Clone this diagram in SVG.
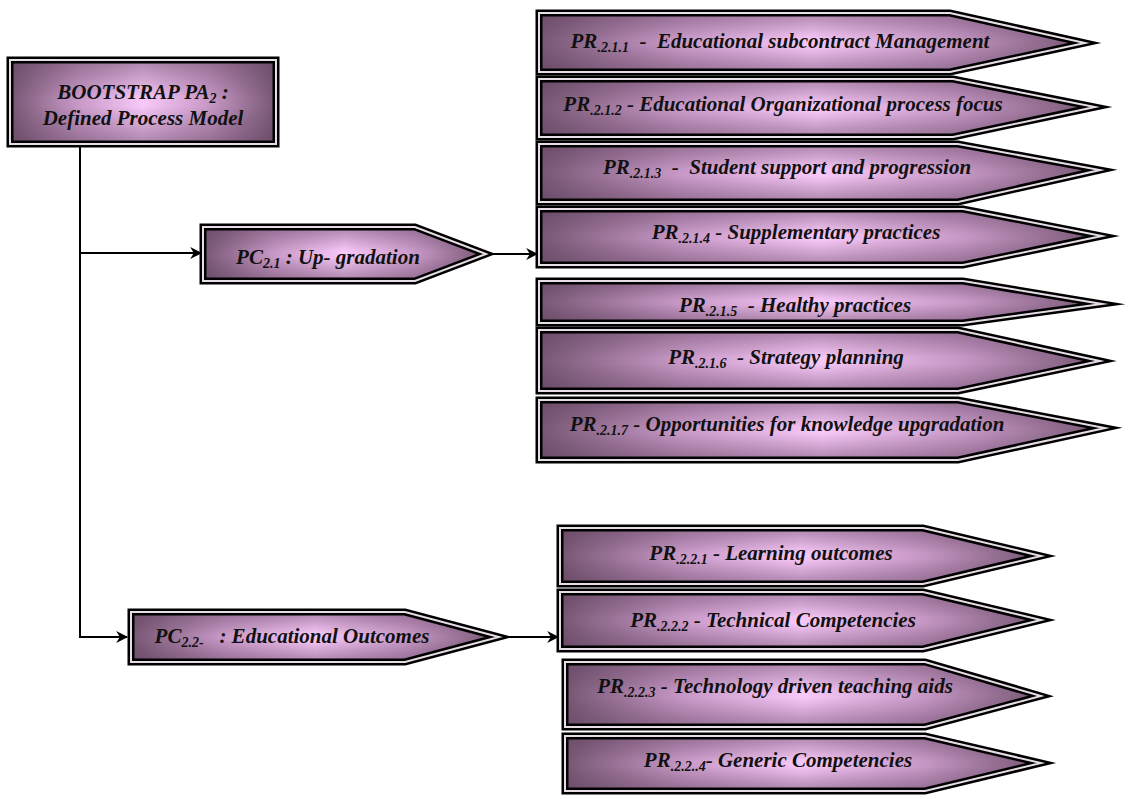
<svg xmlns="http://www.w3.org/2000/svg" xmlns:xlink="http://www.w3.org/1999/xlink" width="1132" height="799" viewBox="0 0 1132 799">
<style>
.base{fill:url(#gh)}
.shade{fill:url(#gv)}
.b1{fill:none;stroke:#000;stroke-width:7;stroke-miterlimit:12}
.b2{fill:none;stroke:#e6dde6;stroke-width:2;stroke-miterlimit:12}
text{font-family:"Liberation Serif","Times New Roman",serif;font-weight:bold;font-style:italic;font-size:21px;fill:#111;text-anchor:middle}
.sub{font-size:14px}
.conn{fill:none;stroke:#000;stroke-width:2}
</style>
<defs>
<linearGradient id="gh" x1="0" y1="0" x2="1" y2="0">
<stop offset="0" stop-color="#765673"/>
<stop offset="0.25" stop-color="#c798c6"/>
<stop offset="0.5" stop-color="#f8c8f8"/>
<stop offset="0.75" stop-color="#c798c6"/>
<stop offset="1" stop-color="#765673"/>
</linearGradient>
<linearGradient id="gv" x1="0" y1="0" x2="0" y2="1">
<stop offset="0" stop-color="#5e405c" stop-opacity="0.5"/>
<stop offset="0.45" stop-color="#5e405c" stop-opacity="0"/>
<stop offset="0.55" stop-color="#5e405c" stop-opacity="0"/>
<stop offset="1" stop-color="#5e405c" stop-opacity="0.5"/>
</linearGradient>
<marker id="ah" viewBox="0 0 10 10" refX="9" refY="5" markerWidth="12" markerHeight="12" markerUnits="userSpaceOnUse" orient="auto">
<path d="M0,0 L10,5 L0,10 L3,5 Z" fill="#000"/>
</marker>
<path id="s-top" d="M10,60 H276 V144 H10 Z"/>
<path id="s-pc21" d="M203,227 H415 L486,254 L415,281 H203 Z"/>
<path id="s-pc22" d="M131,612 H405 L499,637 L405,662 H131 Z"/>
<path id="s-pr211" d="M539,13 H950 L1085,43 L950,72 H539 Z"/>
<path id="s-pr212" d="M539,79 H953 L1095,107 L953,137 H539 Z"/>
<path id="s-pr213" d="M539,144 H958 L1100,170 L958,202 H539 Z"/>
<path id="s-pr214" d="M539,209 H963 L1102,236 L963,265 H539 Z"/>
<path id="s-pr215" d="M539,281 H963 L1102,304 L963,323 H539 Z"/>
<path id="s-pr216" d="M539,330 H958 L1100,361 L958,391 H539 Z"/>
<path id="s-pr217" d="M539,400 H958 L1105,428 L958,460 H539 Z"/>
<path id="s-pr221" d="M560,528 H923 L1041,556 L923,584 H560 Z"/>
<path id="s-pr222" d="M560,592 H923 L1041,620 L923,649 H560 Z"/>
<path id="s-pr223" d="M565,662 H925 L1041,696 L925,727 H565 Z"/>
<path id="s-pr224" d="M565,736 H925 L1041,763 L925,791 H565 Z"/>
</defs>

<g id="connectors">
<path class="conn" d="M80,147 V637 H127" marker-end="url(#ah)"/>
<path class="conn" d="M80,253 H201" marker-end="url(#ah)"/>
<path class="conn" d="M490,254 H537" marker-end="url(#ah)"/>
<path class="conn" d="M503,637 H558" marker-end="url(#ah)"/>
</g>

<g id="top">
<use href="#s-top" class="base"/><use href="#s-top" class="shade"/><use href="#s-top" class="b1"/><use href="#s-top" class="b2"/>
<text x="143" y="99">BOOTSTRAP PA<tspan class="sub" dy="4">2</tspan><tspan dy="-4"> :</tspan></text>
<text x="143" y="125">Defined Process Model</text>
</g>

<g id="pc21">
<use href="#s-pc21" class="base"/><use href="#s-pc21" class="shade"/><use href="#s-pc21" class="b1"/><use href="#s-pc21" class="b2"/>
<text x="328" y="264">PC<tspan class="sub" dy="4">2.1</tspan><tspan dy="-4"> : Up- gradation</tspan></text>
</g>

<g id="pc22">
<use href="#s-pc22" class="base"/><use href="#s-pc22" class="shade"/><use href="#s-pc22" class="b1"/><use href="#s-pc22" class="b2"/>
<text x="292" y="643" xml:space="preserve">PC<tspan class="sub" dy="4">2.2-</tspan><tspan dy="-4">   : Educational Outcomes</tspan></text>
</g>

<g id="pr211">
<use href="#s-pr211" class="base"/><use href="#s-pr211" class="shade"/><use href="#s-pr211" class="b1"/><use href="#s-pr211" class="b2"/>
<text x="780" y="48" xml:space="preserve">PR<tspan class="sub" dy="4">.2.1.1</tspan><tspan dy="-4">  -  Educational subcontract Management</tspan></text>
</g>

<g id="pr212">
<use href="#s-pr212" class="base"/><use href="#s-pr212" class="shade"/><use href="#s-pr212" class="b1"/><use href="#s-pr212" class="b2"/>
<text x="783" y="111">PR<tspan class="sub" dy="4">.2.1.2</tspan><tspan dy="-4"> - Educational Organizational process focus</tspan></text>
</g>

<g id="pr213">
<use href="#s-pr213" class="base"/><use href="#s-pr213" class="shade"/><use href="#s-pr213" class="b1"/><use href="#s-pr213" class="b2"/>
<text x="787" y="174" xml:space="preserve">PR<tspan class="sub" dy="4">.2.1.3</tspan><tspan dy="-4">  -  Student support and progression</tspan></text>
</g>

<g id="pr214">
<use href="#s-pr214" class="base"/><use href="#s-pr214" class="shade"/><use href="#s-pr214" class="b1"/><use href="#s-pr214" class="b2"/>
<text x="796" y="239">PR<tspan class="sub" dy="4">.2.1.4</tspan><tspan dy="-4"> - Supplementary practices</tspan></text>
</g>

<g id="pr215">
<use href="#s-pr215" class="base"/><use href="#s-pr215" class="shade"/><use href="#s-pr215" class="b1"/><use href="#s-pr215" class="b2"/>
<text x="795" y="312" xml:space="preserve">PR<tspan class="sub" dy="4">.2.1.5</tspan><tspan dy="-4">  - Healthy practices</tspan></text>
</g>

<g id="pr216">
<use href="#s-pr216" class="base"/><use href="#s-pr216" class="shade"/><use href="#s-pr216" class="b1"/><use href="#s-pr216" class="b2"/>
<text x="786" y="364" xml:space="preserve">PR<tspan class="sub" dy="4">.2.1.6</tspan><tspan dy="-4">  - Strategy planning</tspan></text>
</g>

<g id="pr217">
<use href="#s-pr217" class="base"/><use href="#s-pr217" class="shade"/><use href="#s-pr217" class="b1"/><use href="#s-pr217" class="b2"/>
<text x="787" y="431">PR<tspan class="sub" dy="4">.2.1.7</tspan><tspan dy="-4"> - Opportunities for knowledge upgradation</tspan></text>
</g>

<g id="pr221">
<use href="#s-pr221" class="base"/><use href="#s-pr221" class="shade"/><use href="#s-pr221" class="b1"/><use href="#s-pr221" class="b2"/>
<text x="771" y="560">PR<tspan class="sub" dy="4">.2.2.1</tspan><tspan dy="-4"> - Learning outcomes</tspan></text>
</g>

<g id="pr222">
<use href="#s-pr222" class="base"/><use href="#s-pr222" class="shade"/><use href="#s-pr222" class="b1"/><use href="#s-pr222" class="b2"/>
<text x="773" y="627">PR<tspan class="sub" dy="4">.2.2.2</tspan><tspan dy="-4"> - Technical Competencies</tspan></text>
</g>

<g id="pr223">
<use href="#s-pr223" class="base"/><use href="#s-pr223" class="shade"/><use href="#s-pr223" class="b1"/><use href="#s-pr223" class="b2"/>
<text x="775" y="693">PR<tspan class="sub" dy="4">.2.2.3</tspan><tspan dy="-4"> - Technology driven teaching aids</tspan></text>
</g>

<g id="pr224">
<use href="#s-pr224" class="base"/><use href="#s-pr224" class="shade"/><use href="#s-pr224" class="b1"/><use href="#s-pr224" class="b2"/>
<text x="778" y="767">PR<tspan class="sub" dy="4">.2.2..4</tspan><tspan dy="-4">- Generic Competencies</tspan></text>
</g>
</svg>
